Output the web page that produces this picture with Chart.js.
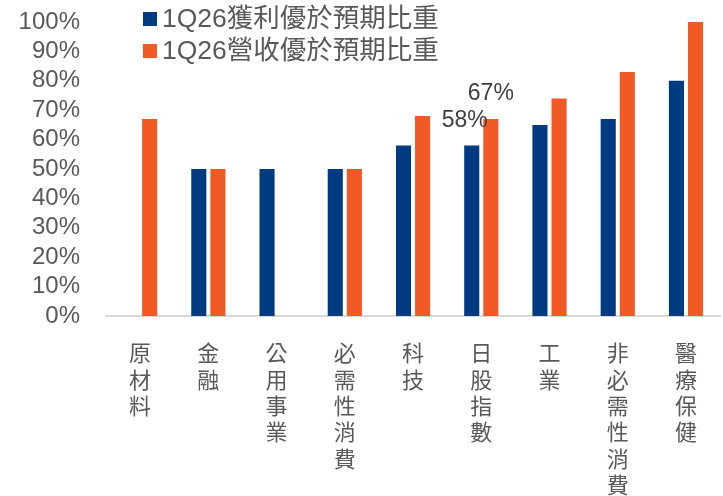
<!DOCTYPE html>
<html>
<head>
<meta charset="utf-8">
<script src="https://cdn.jsdelivr.net/npm/chart.js@4.4.1/dist/chart.umd.min.js"></script>
<style>
  html, body { margin: 0; padding: 0; background: #fff; }
  #wrap { position: relative; width: 723px; height: 496px; }
</style>
</head>
<body>
<div id="wrap"><canvas id="bar"></canvas></div>
<script>
// data
var categories = ['原材料', '金融', '公用事業', '必需性消費', '科技', '日股指數', '工業', '非必需性消費', '醫療保健'];
var profitBeat = [0, 50, 50, 50, 58, 58, 65, 67, 80];
var revenueBeat = [67, 50, 0, 50, 68, 67, 74, 83, 100];
var seriesNames = ['1Q26獲利優於預期比重', '1Q26營收優於預期比重'];
var yTicks = [0, 10, 20, 30, 40, 50, 60, 70, 80, 90, 100];
var labelledCategory = '日股指數';

var FONT = "'Liberation Sans', Arial, 'Noto Sans CJK TC', sans-serif";
var NAVY = '#003A80';
var ORANGE = '#F15A24';
var GREY = '#595959';

// legend drawn at the top-left of the plot, two rows
var topLegend = {
  id: 'topLegend',
  afterDraw: function(chart) {
    var ctx = chart.ctx;
    ctx.save();
    ctx.font = '26.5px ' + FONT;
    ctx.textBaseline = 'middle';
    ctx.textAlign = 'left';
    chart.data.datasets.forEach(function(ds, i) {
      var y = 19 + i * 32;
      ctx.fillStyle = ds.backgroundColor;
      ctx.fillRect(143, y - 7, 14, 14);
      ctx.fillStyle = GREY;
      ctx.fillText(ds.label, 162, y + 1);
    });
    ctx.restore();
  }
};

// value labels over the 日股指數 bars
var valueLabels = {
  id: 'valueLabels',
  afterDatasetsDraw: function(chart) {
    var idx = categories.indexOf(labelledCategory);
    var ctx = chart.ctx;
    ctx.save();
    ctx.font = '23px ' + FONT;
    ctx.fillStyle = '#404040';
    ctx.textAlign = 'center';
    ctx.textBaseline = 'middle';
    chart.data.datasets.forEach(function(ds, i) {
      var el = chart.getDatasetMeta(i).data[idx];
      var dx = i === 0 ? -7 : 0;
      ctx.fillText(ds.data[idx] + '%', el.x + dx, el.y - 25);
    });
    ctx.restore();
  }
};

var ctx2 = document.getElementById('bar').getContext('2d');
var myChart = new Chart(ctx2, {
  type: 'bar',
  data: {
    labels: categories.map(function(c) { return c.split(''); }),
    datasets: [{
      label: seriesNames[0],
      data: profitBeat,
      backgroundColor: NAVY,
      borderWidth: 0,
      categoryPercentage: 0.56,
      barPercentage: 0.79
    },
    {
      label: seriesNames[1],
      data: revenueBeat,
      backgroundColor: ORANGE,
      borderWidth: 0,
      categoryPercentage: 0.56,
      barPercentage: 0.79
    }]
  },
  options: {
    responsive: true,
    maintainAspectRatio: false,
    animation: false,
    layout: { padding: 0 },
    plugins: {
      legend: { display: false },
      tooltip: { enabled: false }
    },
    scales: {
      y: {
        min: 0,
        max: 100,
        afterBuildTicks: function(s) {
          s.ticks = yTicks.map(function(v) { return { value: v }; });
        },
        afterFit: function(s) {
          s.width = 106;
          s.paddingTop = 22;
          s.paddingBottom = 0;
        },
        ticks: {
          autoSkip: false,
          padding: 18,
          color: GREY,
          font: { family: FONT, size: 24 },
          callback: function(value) { return value + '%'; }
        },
        grid: { display: false },
        border: { display: false }
      },
      x: {
        afterFit: function(s) { s.height = 180; },
        ticks: {
          maxRotation: 0,
          autoSkip: false,
          padding: 26,
          color: GREY,
          font: { family: FONT, size: 22, lineHeight: 1.2 }
        },
        grid: { display: false, drawTicks: false },
        border: { display: true, color: '#D9D9D9', width: 2 }
      }
    }
  },
  plugins: [topLegend, valueLabels]
});
</script>
</body>
</html>
